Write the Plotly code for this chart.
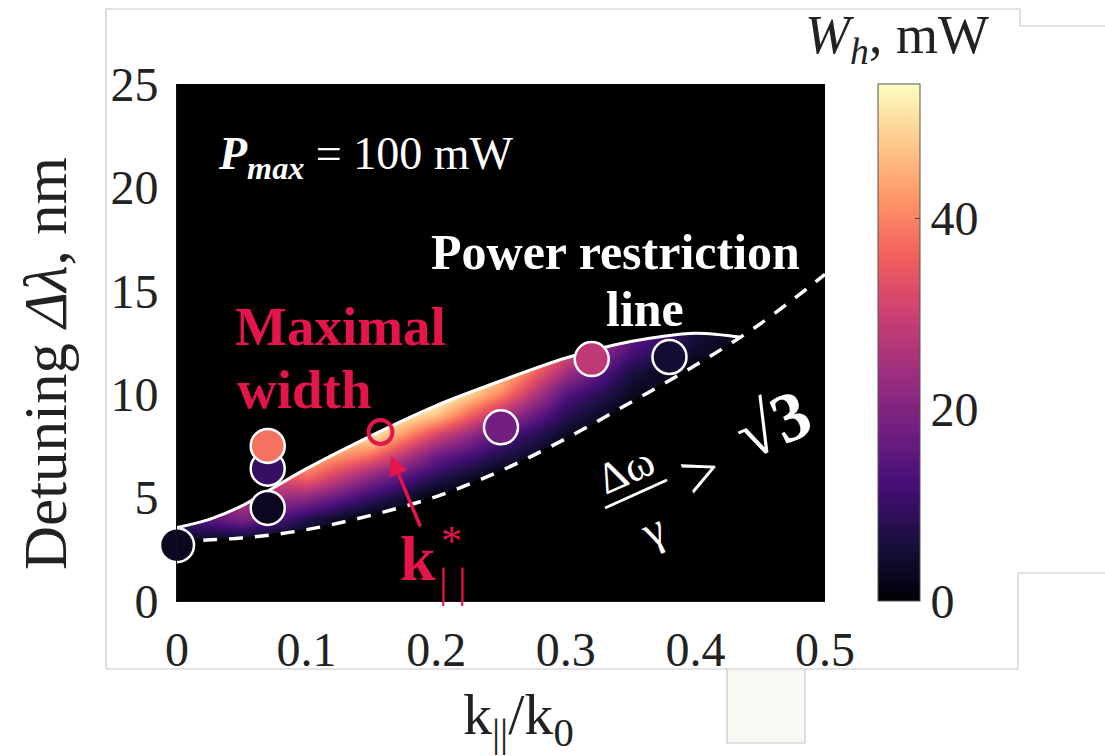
import plotly.graph_objects as go

# ---------------- data ----------------
# upper boundary (power restriction line), white solid
upper_x = [0, 0.025, 0.05, 0.075, 0.1, 0.15, 0.2, 0.25, 0.3, 0.35, 0.4, 0.436]
upper_y = [3.55, 3.95, 4.6, 5.5, 6.4, 8.0, 9.45, 10.65, 11.75, 12.55, 12.95, 12.75]

# lower boundary (Δω/γ = √3), white dashed
lower_x = [0, 0.05, 0.1, 0.15, 0.2, 0.25, 0.3, 0.35, 0.4, 0.45, 0.5]
lower_y = [2.9, 3.05, 3.45, 4.15, 5.05, 6.3, 7.85, 9.6, 11.4, 13.4, 15.8]

# W_h field (mW) on a coarse grid
field_x = [0, 0.05, 0.1, 0.15, 0.2, 0.25, 0.3, 0.35, 0.4, 0.45]
field_y = [2, 3, 4, 5, 6, 7, 8, 9, 10, 11, 12, 13, 14]
field_z = [
    [0, 0, 0, 0, 0, 0, 0, 0, 0, 0],
    [4, 3, 0, 0, 0, 0, 0, 0, 0, 0],
    [11, 20, 8, 0, 0, 0, 0, 0, 0, 0],
    [12, 27, 22, 10, 0, 0, 0, 0, 0, 0],
    [12, 28, 37, 21, 8, 0, 0, 0, 0, 0],
    [12, 28, 47, 37, 17, 7, 0, 0, 0, 0],
    [12, 28, 50, 52, 31, 14, 3, 0, 0, 0],
    [12, 28, 50, 58, 47, 26, 8, 0, 0, 0],
    [12, 28, 50, 60, 58, 40, 14, 3, 0, 0],
    [12, 28, 50, 60, 60, 49, 24, 6, 0, 0],
    [12, 28, 50, 60, 60, 52, 33, 12, 4, 0],
    [12, 28, 50, 60, 60, 52, 36, 17, 6, 1],
    [12, 28, 50, 60, 60, 52, 36, 18, 7, 2],
]

# measured points
pts_x = [0, 0.07, 0.07, 0.07, 0.25, 0.32, 0.38]
pts_y = [2.7, 4.5, 6.4, 7.5, 8.4, 11.7, 11.8]
pts_w = [3, 3, 10, 38, 18, 28, 5]

# maximal-width point k*
kstar_x = [0.157]
kstar_y = [8.17]

x_ticks = [0, 0.1, 0.2, 0.3, 0.4, 0.5]
x_ticktext = ["0", "0.1", "0.2", "0.3", "0.4", "0.5"]
y_ticks = [0, 5, 10, 15, 20, 25]
y_ticktext = ["0", "5", "10", "15", "20", "25"]
cb_ticks = [0, 20, 40]
W_MIN, W_MAX = 0, 54

# ---------------- styling ----------------
SERIF = "Liberation Serif"
CRIMSON = "#e3154a"
INK = "#222222"
GRID = "#c8c8c8"

# plot area in pixels (for converting annotation positions)
L, R, T, B = 177, 280, 84, 155
W, H = 1105, 756
PW, PH = W - L - R, H - T - B


def px(xp):
    return (xp - L) / PW


def py(yp):
    return (H - B - yp) / PH


fig = go.Figure()

fig.add_trace(go.Heatmap(
    x=field_x, y=field_y, z=field_z,
    colorscale="Magma", zmin=W_MIN, zmax=W_MAX, zsmooth="best",
    hoverinfo="skip",
    colorbar=dict(
        x=px(878), xanchor="left", xpad=0,
        y=0, yanchor="bottom", len=1, lenmode="fraction", ypad=0,
        thickness=42, outlinewidth=1, outlinecolor="#555555",
        tickvals=cb_ticks, ticks="inside", ticklen=5, tickcolor="#444444",
        tickfont=dict(family=SERIF, size=48, color=INK),
    ),
))

# black masks above the upper line and below the dashed line
mask_top_x = upper_x + [lx for lx in lower_x if lx > upper_x[-1]] + [0.53, 0.53, -0.03, -0.03]
mask_top_y = upper_y + [ly for lx, ly in zip(lower_x, lower_y) if lx > upper_x[-1]] + [lower_y[-1], 26, 26, upper_y[0]]
fig.add_trace(go.Scatter(x=mask_top_x, y=mask_top_y, mode="lines", fill="toself",
                         fillcolor="black", line=dict(width=0, color="black", shape="spline"),
                         hoverinfo="skip", showlegend=False))
mask_bot_x = lower_x + [0.53, 0.53, -0.03, -0.03]
mask_bot_y = lower_y + [lower_y[-1], -1, -1, lower_y[0]]
fig.add_trace(go.Scatter(x=mask_bot_x, y=mask_bot_y, mode="lines", fill="toself",
                         fillcolor="black", line=dict(width=0, color="black"),
                         hoverinfo="skip", showlegend=False))

# boundaries
fig.add_trace(go.Scatter(x=upper_x, y=upper_y, mode="lines",
                         line=dict(color="white", width=3, shape="spline", smoothing=0.8),
                         hoverinfo="skip", showlegend=False))
fig.add_trace(go.Scatter(x=lower_x, y=lower_y, mode="lines",
                         line=dict(color="white", width=3.5, dash="14px,12px", shape="spline"),
                         hoverinfo="skip", showlegend=False))

# measured points
fig.add_trace(go.Scatter(x=pts_x, y=pts_y, mode="markers", cliponaxis=False,
                         marker=dict(size=34, color=pts_w, colorscale="Magma",
                                     cmin=W_MIN, cmax=W_MAX,
                                     line=dict(color="white", width=2.5)),
                         showlegend=False))
fig.add_trace(go.Scatter(x=kstar_x, y=kstar_y, mode="markers", cliponaxis=False,
                         marker=dict(size=24, color="rgba(0,0,0,0)",
                                     line=dict(color=CRIMSON, width=4)),
                         showlegend=False))

ann = []


def text(x, y, t, size, color="white", angle=0, xanchor="center", yanchor="middle", ref="paper"):
    ann.append(dict(x=x, y=y, xref=ref, yref=ref, text=t, showarrow=False,
                    textangle=angle, xanchor=xanchor, yanchor=yanchor,
                    font=dict(family=SERIF, size=size, color=color)))


text(px(216), py(157), "<b><i>P</i></b><sub><b><i>max</i></b></sub> = 100 mW", 46, xanchor="left")
text(px(615), py(252), "<b>Power restriction</b>", 50)
text(px(645), py(309), "<b>line</b>", 50)
text(px(233), py(326), "<b>Maximal</b>", 55, color=CRIMSON, xanchor="left")
text(px(235), py(389), "<b>width</b>", 55, color=CRIMSON, xanchor="left")
text(px(418), py(558), "<b>k</b>", 64, color=CRIMSON)
text(px(451), py(541), "*", 42, color=CRIMSON)
text(px(452), py(583), "| |", 42, color=CRIMSON)

# Δω/γ > √3 rotated
text(px(625), py(470), "Δω", 44, angle=-24)
text(px(652), py(530), "γ", 46, angle=-24)
text(px(700), py(472), "&gt;", 66, angle=-24)
text(px(772), py(424), "√<b>3</b>", 70, angle=-24)

# colorbar title, axis titles
text(px(897), py(3), "<i>W</i><sub><i>h</i></sub>, mW", 54, color=INK, yanchor="top")
text(px(518), py(718), "k<sub>||</sub>/k<sub>0</sub>", 58, color=INK)
text(px(45), py(364), "Detuning <i>Δλ</i>, nm", 61, color=INK, angle=-90)

# arrow to k*
ann.append(dict(x=px(391), y=py(456), xref="paper", yref="paper",
                ax=421 - 391, ay=528 - 456, axref="pixel", ayref="pixel",
                text="", showarrow=True, arrowhead=2, arrowsize=1.1,
                arrowwidth=3.5, arrowcolor=CRIMSON))

# decorative frame lines of the original composite
shapes = []


def seg(x0, y0, x1, y1, color=GRID):
    shapes.append(dict(type="line", xref="paper", yref="paper",
                       x0=px(x0), y0=py(y0), x1=px(x1), y1=py(y1),
                       line=dict(color=color, width=1.2), layer="below"))


seg(106, 9, 1020, 9)
seg(1020, 9, 1020, 26)
seg(1020, 26, 1105, 26)
seg(106, 9, 106, 669)
seg(106, 669, 727, 669)
seg(805, 669, 1018, 669)
seg(1018, 573, 1018, 669)
seg(1018, 573, 1105, 573)
shapes.append(dict(type="rect", xref="paper", yref="paper",
                   x0=px(727), y0=py(743), x1=px(805), y1=py(669),
                   fillcolor="#f9f9f4", line=dict(color=GRID, width=1.2), layer="below"))
# fraction bar
shapes.append(dict(type="line", xref="paper", yref="paper",
                   x0=px(605), y0=py(508), x1=px(667), y1=py(480),
                   line=dict(color="white", width=3)))

fig.update_layout(
    width=W, height=H,
    margin=dict(l=L, r=R, t=T, b=B, pad=0),
    paper_bgcolor="white", plot_bgcolor="black",
    showlegend=False,
    annotations=ann, shapes=shapes,
    xaxis=dict(range=[0, 0.5], tickvals=x_ticks, ticktext=x_ticktext,
               showgrid=False, zeroline=False, showline=True, linecolor="#111",
               ticks="", ticklabelstandoff=6,
               tickfont=dict(family=SERIF, size=48, color=INK)),
    yaxis=dict(range=[0, 25], tickvals=y_ticks, ticktext=y_ticktext,
               showgrid=False, zeroline=False, showline=True, linecolor="#111",
               ticks="", ticklabelstandoff=8,
               tickfont=dict(family=SERIF, size=48, color=INK)),
)

fig.write_html("out.html")
